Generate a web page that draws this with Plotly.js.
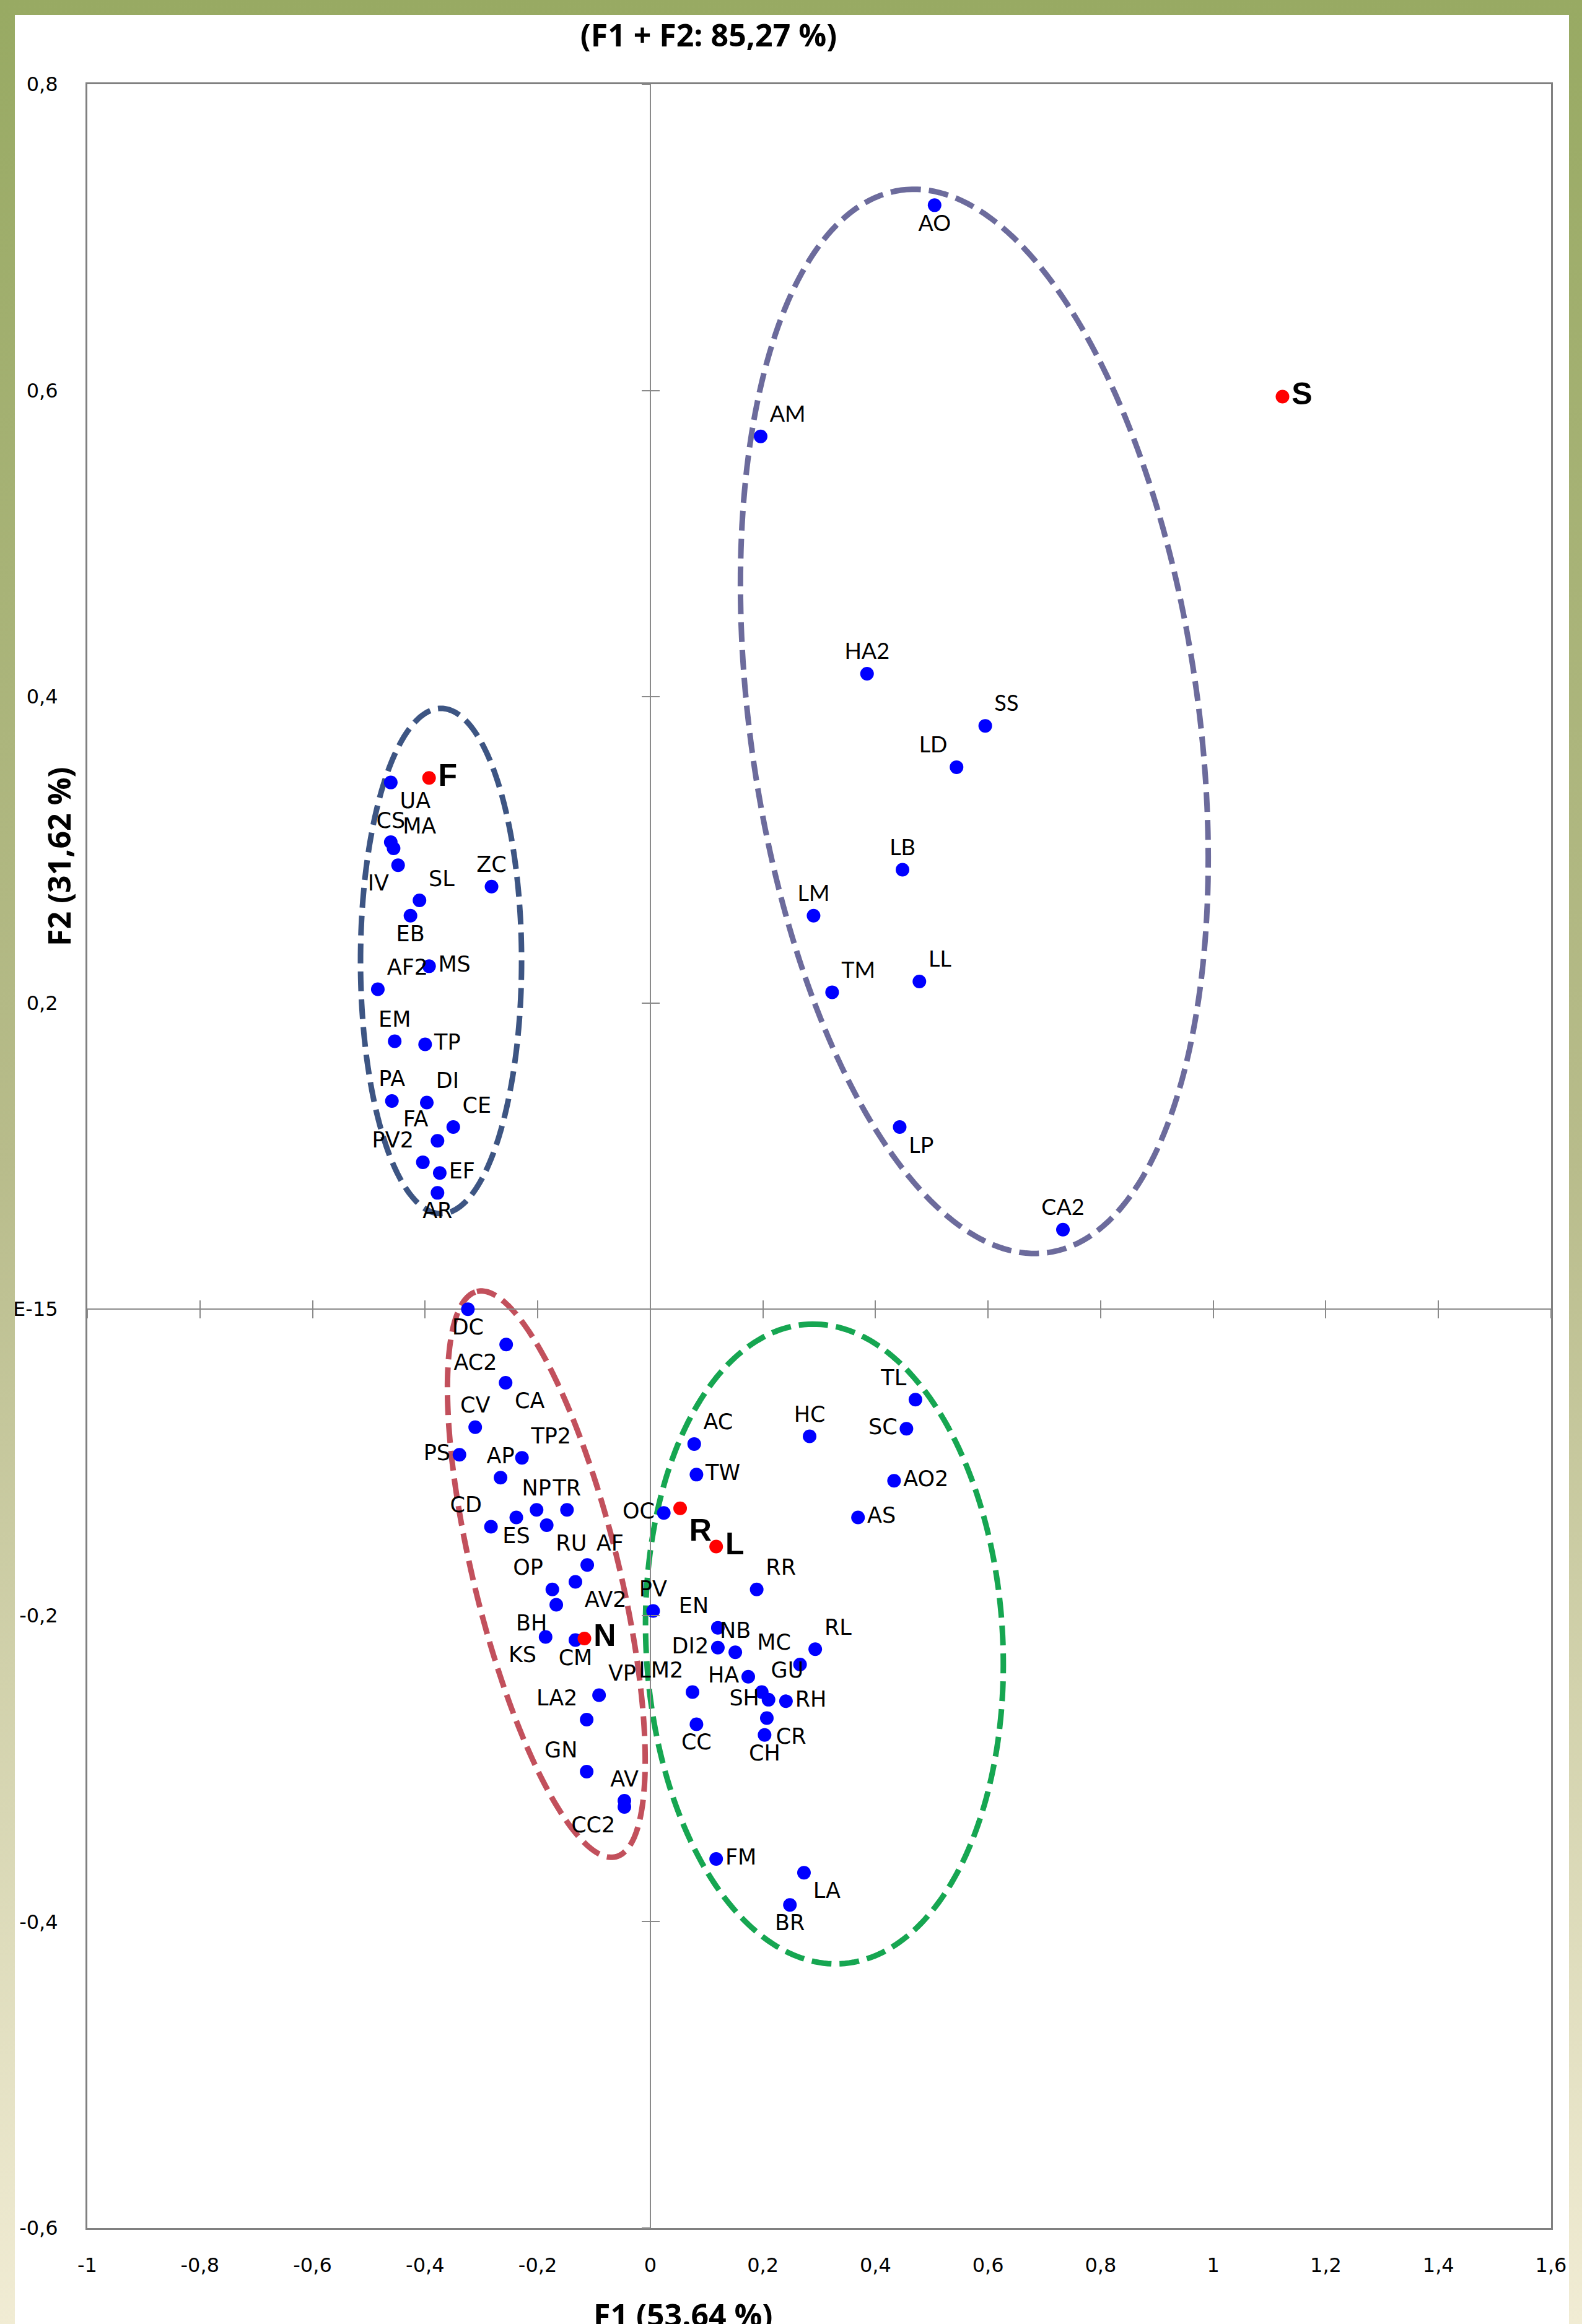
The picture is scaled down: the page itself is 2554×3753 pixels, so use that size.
<!DOCTYPE html>
<html>
<head>
<meta charset="utf-8">
<script src="https://cdn.plot.ly/plotly-3.0.1.min.js"></script>
<style>
html, body { margin: 0; padding: 0; }
body {
  width: 2554px; height: 3753px; overflow: hidden; position: relative;
  background: linear-gradient(to bottom, #98aa63 0%, #b8bc8b 50%, #f1ecd4 100%);
}
#chart { position: absolute; left: 24px; top: 24px; width: 2509px; height: 3729px; background: #ffffff; }
</style>
</head>
<body>
<div id="chart"></div>
<script>
// ---------------- DATA ----------------
const groupF_labels = ['UA','CS','MA','IV','ZC','SL','EB','MS','AF2','EM','TP','PA','DI','CE','FA','PV2','EF','AR'];
const groupF_x = [-0.461,-0.461,-0.456,-0.448,-0.282,-0.410,-0.426,-0.393,-0.484,-0.454,-0.400,-0.459,-0.397,-0.350,-0.378,-0.404,-0.374,-0.378];
const groupF_y = [0.344,0.305,0.301,0.290,0.276,0.267,0.257,0.224,0.209,0.175,0.173,0.136,0.135,0.119,0.110,0.096,0.089,0.076];

const groupS_labels = ['AO','AM','HA2','SS','LD','LB','LM','TM','LL','LP','CA2'];
const groupS_x = [0.505,0.196,0.385,0.595,0.544,0.448,0.290,0.323,0.478,0.443,0.733];
const groupS_y = [0.721,0.570,0.415,0.381,0.354,0.287,0.257,0.207,0.214,0.119,0.052];

const groupN_labels = ['DC','AC2','CA','CV','PS','TP2','AP','NP','TR','CD','ES','RU','AF','OP','AV2','BH','KS','CM','VP','LA2','GN','AV','CC2'];
const groupN_x = [-0.324,-0.256,-0.257,-0.311,-0.339,-0.228,-0.266,-0.202,-0.148,-0.283,-0.238,-0.184,-0.112,-0.174,-0.133,-0.167,-0.186,-0.133,-0.091,-0.113,-0.113,-0.046,-0.046];
const groupN_y = [0.000,-0.023,-0.048,-0.077,-0.095,-0.097,-0.110,-0.131,-0.131,-0.142,-0.136,-0.141,-0.167,-0.183,-0.178,-0.193,-0.214,-0.216,-0.252,-0.268,-0.302,-0.321,-0.325];

const groupRL_labels = ['OC','PV','AC','TW','TL','HC','SC','AO2','AS','RR','EN','DI2','NB','RL','MC','HA','GU','SH','RH','CR','CH','LM2','CC','FM','LA','BR'];
const groupRL_x = [0.024,0.005,0.078,0.082,0.471,0.283,0.455,0.433,0.369,0.189,0.120,0.120,0.151,0.293,0.266,0.174,0.198,0.210,0.241,0.207,0.203,0.075,0.082,0.117,0.273,0.248];
const groupRL_y = [-0.133,-0.197,-0.088,-0.108,-0.059,-0.083,-0.078,-0.112,-0.136,-0.183,-0.208,-0.221,-0.224,-0.222,-0.232,-0.240,-0.250,-0.255,-0.256,-0.267,-0.278,-0.250,-0.271,-0.359,-0.368,-0.389];

const ref_labels = ['F','S','R','L','N'];
const ref_x = [-0.393,1.123,0.053,0.117,-0.117];
const ref_y = [0.347,0.596,-0.130,-0.155,-0.215];

const xTickValues = [-1,-0.8,-0.6,-0.4,-0.2,0,0.2,0.4,0.6,0.8,1,1.2,1.4,1.6];
const xTickLabels = ['-1','-0,8','-0,6','-0,4','-0,2','0','0,2','0,4','0,6','0,8','1','1,2','1,4','1,6'];
const yTickValues = [-0.6,-0.4,-0.2,0,0.2,0.4,0.6,0.8];
const yTickLabels = ['-0,6','-0,4','-0,2','E-15','0,2','0,4','0,6','0,8'];

const chartTitle = '(F1 + F2: 85,27 %)';
const xTitle = 'F1 (53.64 %)';
const yTitle = 'F2 (31,62 %)';

// ---------------- STYLE / LAYOUT ----------------
const labelPosition = {
  UA:'bottom right', CS:'top center', MA:'top right', IV:'bottom left', ZC:'top center', SL:'top right',
  EB:'bottom center', MS:'middle right', AF2:'top right', EM:'top center', TP:'middle right', PA:'top center',
  DI:'top right', CE:'top right', FA:'top left', PV2:'top left', EF:'middle right', AR:'bottom center',
  AO:'bottom center', AM:'top right', HA2:'top center', SS:'top right', LD:'top left', LB:'top center',
  LM:'top center', TM:'top right', LL:'top right', LP:'bottom right', CA2:'top center',
  DC:'bottom center', AC2:'bottom left', CA:'bottom right', CV:'top center', PS:'middle left', TP2:'top right',
  AP:'top center', NP:'top center', TR:'top center', CD:'top left', ES:'bottom center', RU:'bottom right',
  AF:'top right', OP:'top left', AV2:'bottom right', BH:'bottom left', KS:'bottom left', CM:'bottom center',
  VP:'top right', LA2:'top left', GN:'top left', AV:'top center', CC2:'bottom left',
  OC:'middle left', PV:'top center', AC:'top right', TW:'middle right', TL:'top left', HC:'top center',
  SC:'middle left', AO2:'middle right', AS:'middle right', RR:'top right', EN:'top left', DI2:'middle left',
  NB:'top center', RL:'top right', MC:'top left', HA:'middle left', GU:'top right', SH:'middle left',
  RH:'middle right', CR:'bottom right', CH:'bottom center', LM2:'top left', CC:'bottom center',
  FM:'middle right', LA:'bottom right', BR:'bottom center',
  F:'middle right', S:'middle right', R:'bottom right', L:'middle right', N:'middle right'
};

const W = 2509, H = 3729;
const M = {l:117, r:29, t:112, b:155};
const xRange = [-1, 1.6], yRange = [-0.6, 0.8];
const plotW = W - M.l - M.r, plotH = H - M.t - M.b;
const pxPerX = plotW / (xRange[1] - xRange[0]);
const pxPerY = plotH / (yRange[1] - yRange[0]);

// cluster outlines: centre in data units, semi-axes in px, tilt of the long axis in degrees
const outlines = [
  {cx:-0.3717, cy:0.2274,  a:408, b:130, tilt:0,    color:'#3d5583'},
  {cx:0.5756,  cy:0.3839,  a:866, b:362, tilt:7.85, color:'#6c6b9c'},
  {cx:-0.1847, cy:-0.1730, a:470, b:117, tilt:13.8, color:'#c2505c'},
  {cx:0.3093,  cy:-0.2186, a:517, b:288, tilt:2.9,  color:'#16a651'}
];

function outlinePath(e) {
  const n = 260, phi = e.tilt * Math.PI / 180;
  let d = '';
  for (let i = 0; i <= n; i++) {
    const t = 2 * Math.PI * i / n;
    const dxp = e.a * Math.cos(t) * (-Math.sin(phi)) + e.b * Math.sin(t) * Math.cos(phi);
    const dyp = e.a * Math.cos(t) * (-Math.cos(phi)) + e.b * Math.sin(t) * (-Math.sin(phi));
    const x = e.cx + dxp / pxPerX;
    const y = e.cy - dyp / pxPerY;
    d += (i ? ' L ' : 'M ') + x.toFixed(5) + ',' + y.toFixed(5);
  }
  return d + ' Z';
}

const blue = '#0000ff', red = '#ff0000';
const labelFont = {family:'DejaVu Sans, Verdana, sans-serif', size:35, color:'#000000'};
const labelFontNarrow = {family:'Lato, Calibri, sans-serif', size:36, color:'#000000'};

function pointTrace(labels, xs, ys, font) {
  return {
    type:'scatter', mode:'markers+text', x:xs, y:ys, text:labels,
    textposition: labels.map(l => labelPosition[l] || 'top center'),
    textfont: font, cliponaxis:false,
    marker:{color:blue, size:22, line:{width:0}},
    hoverinfo:'text', showlegend:false
  };
}

// empty helper traces so that the crossing tick-mark axes at zero are always drawn
function axisHolder(xa, ya) {
  return {type:'scatter', mode:'markers', x:[], y:[], xaxis:xa, yaxis:ya, showlegend:false, hoverinfo:'skip'};
}

const traces = [
  pointTrace(groupF_labels, groupF_x, groupF_y, labelFont),
  pointTrace(groupS_labels, groupS_x, groupS_y, labelFontNarrow),
  pointTrace(groupN_labels, groupN_x, groupN_y, labelFont),
  pointTrace(groupRL_labels, groupRL_x, groupRL_y, labelFont),
  {
    type:'scatter', mode:'markers+text', x:ref_x, y:ref_y, text:ref_labels,
    textposition: ref_labels.map(l => labelPosition[l]),
    textfont:{family:'Liberation Sans, Arial, sans-serif', size:50, color:'#000000', weight:700},
    cliponaxis:false, marker:{color:red, size:22, line:{width:0}},
    hoverinfo:'text', showlegend:false
  },
  axisHolder('x2','y'), axisHolder('x3','y'), axisHolder('x','y2'), axisHolder('x','y3')
];

const tickMarkBase = {showticklabels:false, tickwidth:2, tickcolor:'#8a8a8a', ticklen:14,
  showline:false, showgrid:false, zeroline:false, fixedrange:true};
const titleFont = {family:'Open Sans, sans-serif', size:50, color:'#000000', weight:700};
const yZeroPos = (0 - yRange[0]) / (yRange[1] - yRange[0]);
const xZeroPos = (0 - xRange[0]) / (xRange[1] - xRange[0]);

const layout = {
  width:W, height:H, margin:M, autosize:false,
  paper_bgcolor:'#ffffff', plot_bgcolor:'#ffffff',
  showlegend:false, hovermode:false,
  title:{text:chartTitle, font:titleFont, x:1120/W, xanchor:'center', y:1 - 33/H, yanchor:'middle'},
  xaxis:{
    range:xRange, tickvals:xTickValues, ticktext:xTickLabels, ticks:'',
    tickfont:{family:'DejaVu Sans, Verdana, sans-serif', size:32, color:'#000000'},
    ticklabelstandoff:30,
    showline:true, mirror:true, linecolor:'#808080', linewidth:3,
    showgrid:false, zeroline:true, zerolinecolor:'#8a8a8a', zerolinewidth:2, fixedrange:true
  },
  yaxis:{
    range:yRange, tickvals:yTickValues, ticktext:yTickLabels, ticks:'',
    tickfont:{family:'DejaVu Sans, Verdana, sans-serif', size:32, color:'#000000'},
    ticklabelstandoff:38,
    showline:true, mirror:true, linecolor:'#808080', linewidth:3,
    showgrid:false, zeroline:true, zerolinecolor:'#8a8a8a', zerolinewidth:2, fixedrange:true
  },
  xaxis2:Object.assign({}, tickMarkBase, {range:xRange, overlaying:'x', anchor:'free', position:yZeroPos, tickvals:xTickValues, ticks:'outside'}),
  xaxis3:Object.assign({}, tickMarkBase, {range:xRange, overlaying:'x', anchor:'free', position:yZeroPos, tickvals:xTickValues, ticks:'inside'}),
  yaxis2:Object.assign({}, tickMarkBase, {range:yRange, overlaying:'y', anchor:'free', position:xZeroPos, tickvals:yTickValues, ticks:'outside'}),
  yaxis3:Object.assign({}, tickMarkBase, {range:yRange, overlaying:'y', anchor:'free', position:xZeroPos, tickvals:yTickValues, ticks:'inside'}),
  shapes: outlines.map(e => ({
    type:'path', xref:'x', yref:'y', path:outlinePath(e), layer:'below',
    line:{color:e.color, width:9, dash:'32px,13px'}, fillcolor:'rgba(0,0,0,0)'
  })),
  annotations:[
    {
      text:yTitle, textangle:-90, xref:'paper', yref:'paper',
      x:(71 - M.l)/plotW, y:1 - (1359 - M.t)/plotH,
      xanchor:'center', yanchor:'middle', showarrow:false, font:titleFont
    },
    {
      text:xTitle, xref:'paper', yref:'paper',
      x:(1079 - M.l)/plotW, y:1 - (3714 - M.t)/plotH,
      xanchor:'center', yanchor:'middle', showarrow:false, font:titleFont
    }
  ]
};

Plotly.newPlot('chart', traces, layout, {displayModeBar:false, staticPlot:true});
</script>
</body>
</html>
